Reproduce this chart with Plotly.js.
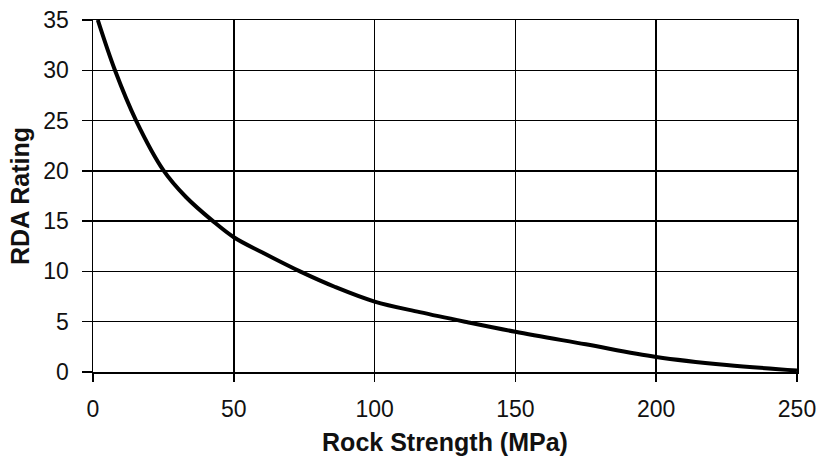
<!DOCTYPE html>
<html>
<head>
<meta charset="utf-8">
<script src="https://cdn.plot.ly/plotly-3.0.1.min.js"></script>
<style>html,body{margin:0;padding:0;background:#fff;}#chart{width:826px;height:470px;}</style>
</head>
<body>
<div id="chart"></div>
<script>
const rockStrength = [1.7, 7.8, 15.3, 24.9, 33, 42.6, 50, 60, 73.5, 86, 100, 116, 133, 150, 175, 200, 225, 250];
const rdaRating    = [35, 30, 25, 20.1, 17.4, 15, 13.4, 11.9, 10, 8.45, 7.0, 5.95, 4.95, 4.0, 2.75, 1.5, 0.7, 0.15];
const xTicks = [0, 50, 100, 150, 200, 250];
const yTicks = [0, 5, 10, 15, 20, 25, 30, 35];

const font = {family: 'Liberation Sans, Arial, sans-serif', color: '#111', size: 23};

Plotly.newPlot('chart', [{
  x: rockStrength,
  y: rdaRating,
  type: 'scatter',
  mode: 'lines',
  line: {color: '#000', width: 4, shape: 'spline', smoothing: 1},
  hoverinfo: 'skip',
  showlegend: false
}], {
  width: 826, height: 470,
  margin: {l: 93, r: 29, t: 20, b: 98},
  paper_bgcolor: '#fff', plot_bgcolor: '#fff',
  font: font,
  xaxis: {
    range: [0, 250], tickvals: xTicks, ticktext: xTicks.map(String),
    showgrid: true, gridcolor: '#000', gridwidth: 1.5,
    zeroline: false, showline: true, linecolor: '#000', linewidth: 1.5, mirror: true,
    ticks: 'outside', ticklen: 8, tickwidth: 1.5, tickcolor: '#000',
    ticklabelstandoff: 8,
    tickfont: {size: 23},
    title: {text: '<b>Rock Strength (MPa)</b>', font: {size: 25}, standoff: 12}
  },
  yaxis: {
    range: [0, 35], tickvals: yTicks, ticktext: yTicks.map(String),
    showgrid: true, gridcolor: '#000', gridwidth: 1.5,
    zeroline: false, showline: true, linecolor: '#000', linewidth: 1.5, mirror: true,
    ticks: 'outside', ticklen: 10, tickwidth: 1.5, tickcolor: '#000',
    ticklabelstandoff: 8,
    tickfont: {size: 23},
    title: {text: '<b>RDA Rating</b>', font: {size: 25}, standoff: 6}
  },
  yaxis2: {
    overlaying: 'y', side: 'right', range: [0, 35],
    showgrid: false, zeroline: false, showticklabels: false, ticks: '',
    showline: true, linecolor: '#000', linewidth: 3
  }
}, {displayModeBar: false, staticPlot: true});
</script>
</body>
</html>
